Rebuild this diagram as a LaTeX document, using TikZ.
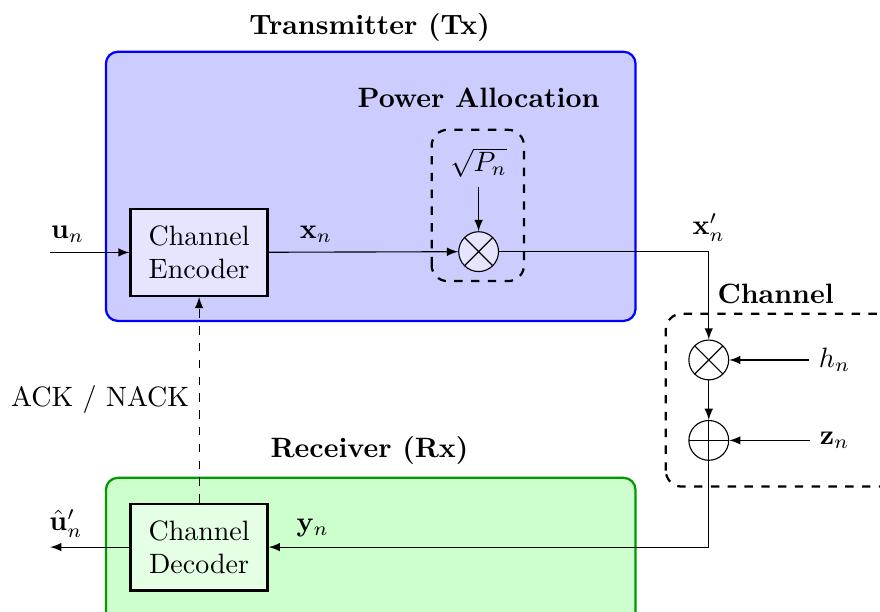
\documentclass[tikz,border=0pt]{standalone}
\usetikzlibrary{positioning,calc,arrows}
\colorlet{tx area}{blue!20}
\colorlet{rx area}{green!20}
\tikzset{area/.style={thick, rounded corners=0.15cm},
    group/.style={draw, thick, dashed, rounded corners=0.2cm},
    block/.style={draw, thick, minimum width=1.72cm, minimum height=1.09cm, align=center},
    mixer/.style={draw, circle, minimum size=0.5cm, inner sep=0pt, fill=blue!10,
        path picture={\draw (path picture bounding box.south west) -- (path picture bounding box.north east)
            (path picture bounding box.north west) -- (path picture bounding box.south east);}},
    adder/.style={draw, circle, minimum size=0.5cm, inner sep=0pt,
        path picture={\draw (path picture bounding box.south) -- (path picture bounding box.north)
            (path picture bounding box.west) -- (path picture bounding box.east);}},
    title/.style={font=\bfseries}}

\begin{document}
\begin{tikzpicture}[>=latex]
    \useasboundingbox (0,0) rectangle (11.05,7.68);
    \clip (0,0) rectangle (11.05,7.68);
    % areas
    \draw[area, draw=blue, fill=tx area] (1.33,3.65) rectangle (7.98,7.03);
    \draw[area, draw=green!60!black, fill=rx area] (1.33,-0.4) rectangle (7.98,1.68);
    \draw[group] (5.42,4.15) rectangle (6.58,6.05);
    \draw[group] (8.36,1.57) rectangle (11.5,3.74);
    \node[title] (txlabel) at (4.64,7.34) {Transmitter (Tx)};
    \node[title] (palabel) at (6.01,6.45) {Power Allocation};
    \node[title] (chlabel) at (9.74,3.99) {Channel};
    \node[title] (rxlabel) at (4.64,2.02) {Receiver (Rx)};
    % blocks
    \node[block, fill=blue!10] (enc) at (2.50,4.51) {Channel\\Encoder};
    \node[block, fill=green!10] (dec) at (2.50,0.81) {Channel\\Decoder};
    \node[mixer] (pmul) at (6.01,4.52) {};
    \node (sqrtp) at (6.01,5.64) {$\sqrt{P_n}$};
    \node[mixer, fill=none] (cmul) at (8.90,3.16) {};
    \node[adder] (add) at (8.90,2.15) {};
    \node (h) at (10.48,3.16) {$h_n$};
    \node (z) at (10.48,2.15) {$\mathbf{z}_n$};
    \coordinate (uin) at (0.63,4.51);
    \coordinate (uout) at (0.63,0.81);
    % signals
    \draw[->] (uin) -- node[above, pos=0.22] {$\mathbf{u}_n$} (enc);
    \draw[->] (enc) -- node[above, pos=0.25] {$\mathbf{x}_n$} (pmul);
    \draw[->] (sqrtp) -- (pmul);
    \draw[->] (pmul) -| node[above, pos=0.5] {$\mathbf{x}'_n$} (cmul);
    \draw[->] (h) -- (cmul);
    \draw[->] (cmul) -- (add);
    \draw[->] (z) -- (add);
    \draw[->] (add) |- node[above, pos=0.95] {$\mathbf{y}_n$} (dec);
    \draw[->] (dec) -- node[above, pos=0.8] {$\hat{\mathbf{u}}'_n$} (uout);
    \draw[->, dashed] (dec) -- node[left, pos=0.5] {ACK / NACK} (enc);
\end{tikzpicture}
\end{document}
